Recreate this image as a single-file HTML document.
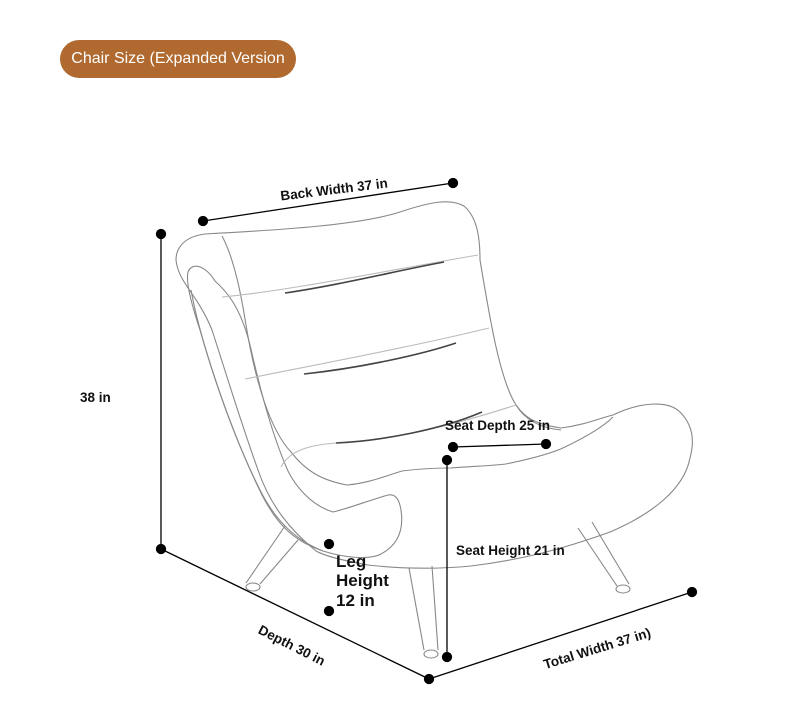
<!DOCTYPE html>
<html><head><meta charset="utf-8"><style>
html,body{margin:0;padding:0;background:#fff;}
body{width:790px;height:719px;position:relative;overflow:hidden;font-family:"Liberation Sans",Arial,sans-serif;}
.pill{position:absolute;left:60px;top:40px;width:236px;height:38px;border-radius:19px;background:#b06a30;color:#fff;font-size:16px;line-height:38px;text-align:center;}
svg{position:absolute;left:0;top:0;}
</style></head><body>
<div class="pill">Chair Size (Expanded Version</div>
<svg width="790" height="719" viewBox="0 0 790 719">
<g fill="none" stroke="#888" stroke-width="1.1">
<path d="M205,234 C280,230 360,225 400,212 C430,202 450,198 464,206 C478,218 480,240 480,260 C490,320 500,380 516,405 C525,418 535,424 561,428 C585,425 600,418 613,415 C640,402 668,400 680,412 C692,424 695,440 690,458 C684,490 650,515 610,532 C560,550 520,560 471,566 C430,570 395,568 368,565 C340,560 325,556 316,551 C290,530 270,505 258,470 C240,420 225,370 212,330 C198,295 178,282 176,260 C176,245 188,236 205,234 Z"/>
<path d="M215,281 C205,265 192,262 188,272 C186,280 190,300 200,330 C220,400 240,450 260,490 C275,520 295,540 323,551 C345,558 370,560 381,554 C398,545 404,530 401,510 C399,498 395,494 388,495 C370,500 350,508 333,512 C310,505 295,485 288,471 C270,430 258,380 250,345 C240,305 225,290 215,281"/>
<path d="M191,290 C200,340 230,430 262,495 C275,520 290,540 323,551"/>
<path d="M222,236 C235,260 242,300 246,325 C255,380 270,430 291,452 C305,470 320,480 347,485 C370,483 388,475 402,471 C425,468 440,468 451,468 C480,466 500,465 506,464 C535,458 555,452 565,447 C590,435 605,425 613,417"/>
<path d="M516,405 C525,420 540,428 561,430"/>
<path d="M222,297 C280,292 380,272 478,255" stroke="#bbb"/>
<path d="M285,293 C340,285 400,270 444,262" stroke="#444" stroke-width="1.6"/>
<path d="M245,379 C330,362 420,345 489,328" stroke="#bbb"/>
<path d="M304,374 C360,368 420,355 456,343" stroke="#444" stroke-width="1.6"/>
<path d="M281,467 C290,450 310,445 336,443 C400,440 470,420 516,405" stroke="#bbb"/>
<path d="M336,443 C380,441 440,430 482,412" stroke="#444" stroke-width="1.6"/>
<path d="M285,526 L246,583 M298,540 L260,584"/>
<ellipse cx="253" cy="587" rx="7" ry="4"/>
<path d="M409,568 L424,650 M432,566 L438,650"/>
<ellipse cx="431" cy="654" rx="7" ry="4"/>
<path d="M578,528 L617,586 M592,522 L629,584"/>
<ellipse cx="623" cy="589" rx="7" ry="4"/>
</g>
<g stroke="#000" stroke-width="1.3" fill="#000">
<line x1="203" y1="221" x2="453" y2="183"/>
<line x1="161" y1="234" x2="161" y2="549"/>
<line x1="161" y1="549" x2="429" y2="679"/>
<line x1="429" y1="679" x2="692" y2="592"/>
<line x1="453" y1="447" x2="546" y2="444"/>
<line x1="447" y1="460" x2="447" y2="657"/>
<circle cx="203" cy="221" r="4.5"/><circle cx="453" cy="183" r="4.5"/>
<circle cx="161" cy="234" r="4.5"/><circle cx="161" cy="549" r="4.5"/>
<circle cx="429" cy="679" r="4.5"/><circle cx="692" cy="592" r="4.5"/>
<circle cx="453" cy="447" r="4.5"/><circle cx="546" cy="444" r="4.5"/>
<circle cx="447" cy="460" r="4.5"/><circle cx="447" cy="657" r="4.5"/>
<circle cx="329" cy="544" r="4.5"/><circle cx="329" cy="611" r="4.5"/>
</g>
<g font-family="Liberation Sans, Arial, sans-serif" fill="#111" font-weight="bold">
<text x="334" y="194" font-size="13.5" text-anchor="middle" transform="rotate(-7 334 189)">Back Width 37 in</text>
<text x="80" y="402" font-size="13.5">38 in</text>
<text x="445" y="430" font-size="13.5">Seat Depth 25 in</text>
<text x="456" y="555" font-size="13.5">Seat Height 21 in</text>
<text x="336" y="567" font-size="17">Leg</text>
<text x="336" y="586" font-size="17">Height</text>
<text x="336" y="606" font-size="17">12 in</text>
<text x="292" y="650" font-size="13.5" text-anchor="middle" transform="rotate(27 292 645)">Depth 30 in</text>
<text x="597" y="653" font-size="13.5" text-anchor="middle" transform="rotate(-17 597 648)">Total Width 37 in)</text>
</g>
</svg>
</body></html>
